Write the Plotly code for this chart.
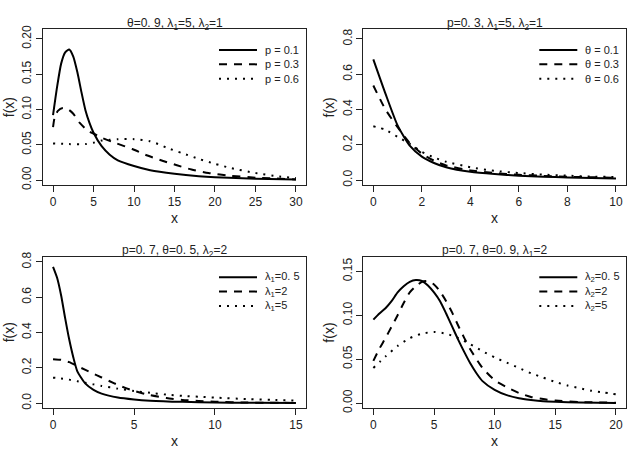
import plotly.graph_objects as go

# Values, one list per curve
# panel 1: theta=0.9, lambda1=5, lambda2=1, p varies
P1_X1 = [0, 0.5, 1, 1.5, 2, 2.5, 3, 3.5, 4, 4.5, 5, 6, 7, 8, 10, 12, 15, 18, 20, 25, 30]
P1_P01 = [0.092, 0.132, 0.165, 0.181, 0.185, 0.175, 0.153, 0.125, 0.099, 0.081, 0.067,
          0.048, 0.036, 0.028, 0.020, 0.014, 0.009, 0.0055, 0.004, 0.002, 0.001]
P1_X2 = [0, 0.2, 0.6, 1.2, 1.9, 2.5, 3.3, 4.3, 5, 6, 7.6, 9.8, 11.4, 13.6, 15.3, 17.1, 19.2, 22, 25, 30]
P1_P03 = [0.075, 0.089, 0.098, 0.102, 0.100, 0.094, 0.081, 0.070, 0.066, 0.060, 0.053, 0.044,
          0.036, 0.027, 0.021, 0.015, 0.010, 0.006, 0.0035, 0.001]
P1_X3 = [0, 2, 4, 5, 6, 7, 8, 10, 12, 13, 14, 16, 18, 20, 22, 25, 28, 30]
P1_P06 = [0.052, 0.051, 0.051, 0.053, 0.056, 0.057, 0.058, 0.058, 0.055, 0.051, 0.046,
          0.038, 0.030, 0.023, 0.017, 0.010, 0.005, 0.003]

# panel 2: p=0.3, lambda1=5, lambda2=1, theta varies
P2_X = [0, 0.5, 1, 1.5, 2, 2.5, 3, 4, 5, 6, 7, 8, 9, 10]
P2_T01 = [0.684, 0.49, 0.31, 0.195, 0.133, 0.097, 0.073, 0.047, 0.034, 0.025, 0.019, 0.015, 0.012, 0.009]
P2_T03 = [0.536, 0.40, 0.30, 0.21, 0.15, 0.11, 0.083, 0.055, 0.040, 0.030, 0.024, 0.019, 0.016, 0.013]
P2_T06 = [0.305, 0.285, 0.245, 0.205, 0.16, 0.128, 0.104, 0.073, 0.052, 0.040, 0.031, 0.025, 0.020, 0.017]

# panel 3: p=0.7, theta=0.5, lambda2=2, lambda1 varies
P3_X1 = [0, 0.25, 0.5, 0.75, 1, 1.25, 1.5, 2, 2.5, 3, 4, 5, 6, 8, 10, 12, 15]
P3_L05 = [0.772, 0.71, 0.61, 0.48, 0.36, 0.26, 0.18, 0.11, 0.075, 0.054, 0.032, 0.021,
          0.014, 0.007, 0.003, 0.0015, 0.0005]
P3_X2 = [0, 0.5, 1, 1.5, 2, 2.5, 3, 3.5, 4, 4.5, 5, 6, 7, 8, 9, 10, 12, 15]
P3_L2 = [0.249, 0.245, 0.232, 0.21, 0.188, 0.167, 0.145, 0.124, 0.103, 0.085, 0.069,
         0.045, 0.029, 0.018, 0.012, 0.008, 0.003, 0.001]
P3_X3 = [0, 0.5, 1, 1.5, 2, 2.5, 3, 4, 5, 6, 7, 8, 9, 10, 12, 13.5, 15]
P3_L5 = [0.144, 0.14, 0.133, 0.124, 0.115, 0.106, 0.097, 0.082, 0.069, 0.058, 0.048,
         0.041, 0.036, 0.031, 0.023, 0.018, 0.014]

# panel 4: p=0.7, theta=0.9, lambda1=2, lambda2 varies
P4_X1 = [0, 0.5, 1, 1.5, 2, 2.5, 3, 3.5, 4, 4.5, 5, 5.5, 6, 6.5, 7, 7.5, 8, 8.5, 9,
         10, 11, 12, 13, 14, 15, 17, 20]
P4_L05 = [0.095, 0.102, 0.108, 0.116, 0.126, 0.133, 0.138, 0.140, 0.139, 0.134, 0.126,
          0.116, 0.102, 0.087, 0.072, 0.058, 0.045, 0.034, 0.025, 0.015, 0.009, 0.0055,
          0.0035, 0.002, 0.0014, 0.0006, 0.0002]
P4_X2 = [0, 0.5, 1, 1.5, 2, 2.5, 3, 3.5, 4, 4.5, 5, 5.5, 6, 6.5, 7, 7.5, 8, 8.5, 9,
         10, 11, 12, 13, 14, 15, 17, 20]
P4_L2 = [0.048, 0.062, 0.074, 0.087, 0.100, 0.114, 0.126, 0.133, 0.138, 0.139, 0.135,
         0.127, 0.116, 0.103, 0.088, 0.074, 0.061, 0.050, 0.040, 0.026, 0.018, 0.0115,
         0.007, 0.0045, 0.003, 0.0012, 0.0004]
P4_X3 = [0, 1, 2, 3, 4, 5, 6, 7, 8, 9, 10, 11, 12, 13, 14, 15, 16, 17, 18, 19, 20]
P4_L5 = [0.040, 0.053, 0.065, 0.074, 0.079, 0.081, 0.079, 0.074, 0.067, 0.059, 0.052,
         0.046, 0.040, 0.034, 0.029, 0.024, 0.020, 0.017, 0.014, 0.012, 0.010]

TITLES = ["θ=0. 9, λ<sub>1</sub>=5, λ<sub>2</sub>=1",
          "p=0. 3, λ<sub>1</sub>=5, λ<sub>2</sub>=1",
          "p=0. 7, θ=0. 5, λ<sub>2</sub>=2",
          "p=0. 7, θ=0. 9, λ<sub>1</sub>=2"]
LEGENDS = [["p = 0.1", "p = 0.3", "p = 0.6"],
           ["θ = 0.1", "θ = 0.3", "θ = 0.6"],
           ["λ<sub>1</sub>=0. 5", "λ<sub>1</sub>=2", "λ<sub>1</sub>=5"],
           ["λ<sub>2</sub>=0. 5", "λ<sub>2</sub>=2", "λ<sub>2</sub>=5"]]

PANELS = [
    [(P1_X1, P1_P01), (P1_X2, P1_P03), (P1_X3, P1_P06)],
    [(P2_X, P2_T01), (P2_X, P2_T03), (P2_X, P2_T06)],
    [(P3_X1, P3_L05), (P3_X2, P3_L2), (P3_X3, P3_L5)],
    [(P4_X1, P4_L05), (P4_X2, P4_L2), (P4_X3, P4_L5)],
]

W, H = 640, 457
FONT = "Liberation Sans, Arial, sans-serif"
DASHES = ["solid", "8px,7px", "2px,6px"]

# box edges in pixels: left, right, top, bottom
BOXES = [(43, 306, 25, 184), (363.3, 626, 25, 184),
         (43, 306, 257.3, 412), (363.3, 626, 257.3, 412)]
XRANGES = [[-1.24, 31.24], [-0.413, 10.413], [-0.62, 15.62], [-0.83, 20.83]]
YRANGES = [[-0.0069, 0.2134], [-0.0277, 0.8536], [-0.0277, 0.8298], [-0.0056, 0.1667]]
XTICKS = [list(range(0, 31, 5)), list(range(0, 11, 2)), [0, 5, 10, 15], [0, 5, 10, 15, 20]]
YTICKS = [[0, 0.05, 0.1, 0.15, 0.2], [0, 0.2, 0.4, 0.6, 0.8],
          [0, 0.2, 0.4, 0.6, 0.8], [0, 0.05, 0.1, 0.15]]
YFMT = [".2f", ".1f", ".1f", ".2f"]


def px(x):
    return x / W


def py(y):
    return 1 - y / H


fig = go.Figure()
annotations = []
shapes = []

for i, curves in enumerate(PANELS):
    n = "" if i == 0 else str(i + 1)
    left, right, top, bottom = BOXES[i]
    for j, (xs, ys) in enumerate(curves):
        fig.add_trace(go.Scatter(
            x=xs, y=ys, mode="lines", xaxis="x" + n, yaxis="y" + n,
            line=dict(color="black", width=2, dash=DASHES[j], shape="spline", smoothing=0.6),
            showlegend=False, hoverinfo="skip"))

    axis_common = dict(showline=True, mirror=True, linecolor="#222", linewidth=1,
                       ticks="outside", ticklen=6, tickcolor="#222", showgrid=False,
                       zeroline=False, tickfont=dict(family=FONT, size=12, color="#222"))
    fig.update_layout(**{
        "xaxis" + n: dict(domain=[px(left), px(right)], range=XRANGES[i], anchor="y" + n,
                          tickvals=XTICKS[i], **axis_common),
        "yaxis" + n: dict(domain=[py(bottom), py(top)], range=YRANGES[i], anchor="x" + n,
                          tickvals=YTICKS[i], tickformat=YFMT[i], tickangle=-90,
                          **axis_common),
    })

    cx = (left + right) / 2
    annotations.append(dict(text=TITLES[i], x=px(cx), y=py(top - 6), xref="paper", yref="paper",
                            xanchor="center", yanchor="middle", showarrow=False,
                            font=dict(family=FONT, size=12, color="#222")))
    annotations.append(dict(text="x", x=px(cx), y=py(bottom + 34), xref="paper", yref="paper",
                            xanchor="center", yanchor="middle", showarrow=False,
                            font=dict(family=FONT, size=14, color="#222")))
    annotations.append(dict(text="f(x)", x=px(left - 34), y=py((top + bottom) / 2), xref="paper",
                            yref="paper", xanchor="center", yanchor="middle", textangle=-90,
                            showarrow=False, font=dict(family=FONT, size=14, color="#222")))

    # legend key, drawn in the top right corner of each box
    for j, label in enumerate(LEGENDS[i]):
        ry = top + 21 + j * 14.7
        shapes.append(dict(type="line", xref="paper", yref="paper",
                           x0=px(left + 176), x1=px(left + 214), y0=py(ry), y1=py(ry),
                           line=dict(color="black", width=2, dash=DASHES[j])))
        annotations.append(dict(text=label, x=px(left + 220), y=py(ry), xref="paper", yref="paper",
                                xanchor="left", yanchor="middle", showarrow=False,
                                font=dict(family=FONT, size=11, color="#222")))

fig.update_layout(width=W, height=H, margin=dict(l=0, r=0, t=0, b=0),
                  paper_bgcolor="white", plot_bgcolor="white",
                  annotations=annotations, shapes=shapes, showlegend=False)

fig.write_html("out.html", config={"displayModeBar": False},
               post_script="document.body.style.margin = '0';")
